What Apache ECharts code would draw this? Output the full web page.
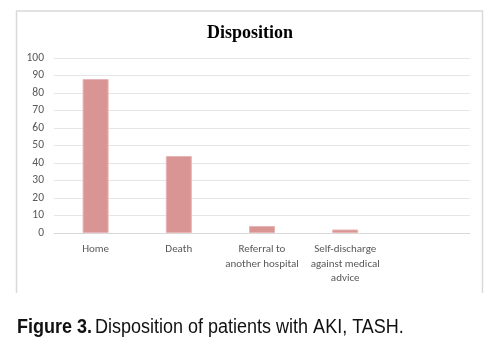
<!DOCTYPE html>
<html>
<head>
<meta charset="utf-8">
<script src="https://cdn.jsdelivr.net/npm/echarts@6/dist/echarts.min.js"></script>
<style>
  html, body { margin: 0; padding: 0; background: #fff; }
  #chart { width: 493px; height: 345px; }
</style>
</head>
<body>
<div id="chart"></div>
<script>
// Patient disposition counts
const categories = ['Home', 'Death', 'Referral to\nanother hospital', 'Self-discharge\nagainst medical\nadvice', ''];
const patients = [88, 44, 4, 2, null];
const yTicks = { min: 0, max: 100, interval: 10 };

const chart = echarts.init(document.getElementById('chart'), null, { renderer: 'canvas' });

chart.setOption({
  animation: false,
  backgroundColor: '#ffffff',
  grid: { left: 54, right: 23, top: 58, bottom: 112, containLabel: false },
  xAxis: {
    type: 'category',
    data: categories,
    axisLine: { show: true, lineStyle: { color: '#d9d9d9', width: 1 } },
    axisTick: { show: false },
    axisLabel: {
      interval: 0,
      margin: 9,
      fontFamily: 'Carlito, Lato, sans-serif',
      fontSize: 11,
      lineHeight: 14.5,
      color: '#595959'
    }
  },
  yAxis: {
    type: 'value',
    min: yTicks.min,
    max: yTicks.max,
    interval: yTicks.interval,
    axisLine: { show: false },
    axisTick: { show: false },
    splitLine: { lineStyle: { color: '#e6e6e6', width: 1 } },
    axisLabel: {
      margin: 10,
      fontFamily: 'Carlito, Lato, sans-serif',
      fontSize: 11.5,
      color: '#595959'
    }
  },
  series: [{
    type: 'bar',
    data: patients,
    barWidth: 26,
    itemStyle: {
      color: '#d99594',
      borderColor: '#e6b5b4',
      borderWidth: 1
    }
  }],
  graphic: [
    {
      type: 'polyline',
      shape: { points: [[16.5, 293], [16.5, 11], [482.5, 11], [482.5, 293]] },
      style: { stroke: '#d9d9d9', lineWidth: 1.5, fill: null },
      silent: true
    },
    {
      // chart title
      type: 'text',
      x: 250,
      y: 33,
      silent: true,
      style: {
        text: 'Disposition',
        align: 'center',
        verticalAlign: 'middle',
        fontFamily: 'Liberation Serif',
        fontWeight: 'bold',
        fontSize: 18,
        fill: '#000000'
      }
    },
    {
      // figure caption, condensed
      type: 'text',
      x: 17,
      y: 327,
      scaleX: 0.9,
      silent: true,
      style: {
        x: 0,
        y: 0,
        verticalAlign: 'middle',
        rich: {
          b: { fontFamily: 'Liberation Sans', fontWeight: 'bold', fontSize: 20, fill: '#111111' },
          n: { fontFamily: 'Liberation Sans', fontSize: 20, fill: '#111111' }
        },
        text: '{b|Figure 3.} {n|Disposition of patients with AKI, TASH.}'
      }
    }
  ]
});
</script>
</body>
</html>
